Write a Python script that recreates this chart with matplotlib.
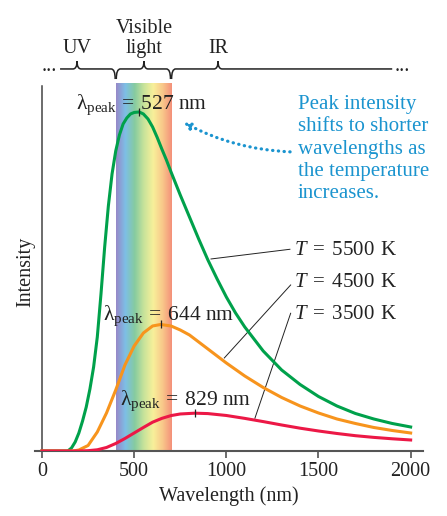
import matplotlib.pyplot as plt
import numpy as np
from matplotlib.colors import LinearSegmentedColormap
from matplotlib.path import Path
from matplotlib.patches import PathPatch, FancyArrowPatch
import matplotlib.transforms as mtransforms

plt.rcParams['font.family'] = 'Liberation Serif'
plt.rcParams['mathtext.fontset'] = 'custom'
plt.rcParams['mathtext.rm'] = 'Liberation Serif'
plt.rcParams['mathtext.it'] = 'Liberation Serif:italic'

# ---- data (intensity in arbitrary units) ----
wl_5500 = [0, 140, 160, 180, 200, 220, 240, 260, 280, 300, 320, 340, 360, 380, 400, 420, 440,
           460, 480, 500, 527, 550, 575, 600, 625, 650, 675, 700, 750, 800, 850, 900, 950,
           1000, 1050, 1100, 1200, 1300, 1400, 1500, 1600, 1700, 1800, 1900, 2000]
I_5500 = [0, 0, 3, 9, 18, 30, 44, 62, 84, 114, 157, 204, 245, 277, 300, 316, 327,
          333, 337, 338.5, 339, 337, 332, 324, 313.5, 302, 291, 279, 256, 234, 212, 191, 172,
          154, 138, 124, 100, 81, 66.5, 54.5, 45, 37.5, 32, 27.5, 24]

wl_4500 = [0, 170, 200, 250, 300, 350, 400, 450, 500, 550, 600, 644, 700, 750, 800, 900,
           1000, 1100, 1200, 1300, 1400, 1500, 1600, 1700, 1800, 1900, 2000]
I_4500 = [0, 0, 1, 5.5, 19, 38, 61, 86, 105, 118, 125, 126.5, 125, 121, 116, 102,
          88, 75, 63.5, 53.5, 45, 38, 32, 27.5, 23.5, 20.5, 18]

wl_3500 = [0, 200, 250, 300, 350, 400, 450, 500, 550, 600, 650, 700, 750, 829, 900,
           1000, 1100, 1200, 1300, 1400, 1500, 1600, 1700, 1800, 1900, 2000]
I_3500 = [0, 0, 0.3, 1.2, 3.5, 7.5, 12.5, 18, 23.5, 28.8, 32.6, 35.4, 37, 37.8, 37.4,
          35.5, 32.6, 29.4, 26, 22.8, 20, 17.5, 15.3, 13.6, 12.2, 11]

peak_nm = [527, 644, 829]
temps = ['5500', '4500', '3500']
curve_colors = ['#00a14b', '#f7941d', '#ec1846']
note_lines = ['Peak intensity', 'shifts to shorter', 'wavelengths as',
              'the temperature', 'increases.']

visible = (400, 700)
xticks = [0, 500, 1000, 1500, 2000]

fig = plt.figure(figsize=(4.47, 5.16), dpi=100)
ax = fig.add_axes([0.0783, 0.126, 0.868, 0.7074])
ax.set_xlim(-38, 2067)
ax.set_ylim(0, 365)

# rainbow band for visible light
rainbow = LinearSegmentedColormap.from_list(
    'vis', ['#9788c8', '#7dbfe6', '#86cba0', '#c8e39a', '#f8f09a', '#f9c88a', '#f4907a'])
ax.imshow(np.linspace(0, 1, 256)[None, :], cmap=rainbow, aspect='auto',
          extent=[visible[0], visible[1], 0, 367], zorder=0, clip_on=False)

series = [(wl_5500, I_5500), (wl_4500, I_4500), (wl_3500, I_3500)]
for (wl, I), c in zip(series, curve_colors):
    ax.plot(wl, I, color=c, lw=2.2, zorder=3, solid_joinstyle='round')

# peak markers and labels
lab_pos = [(184, 342), (333, 131), (423, 46)]
for p, (wl, I), (lx, ly) in zip(peak_nm, series, lab_pos):
    ax.plot([p], [np.interp(p, wl, I)], marker='|', ms=6, mew=0.9, color='#222222', zorder=4)
    ax.text(lx, ly, r'$\mathrm{\lambda}_{\mathrm{peak}}\,=\;\mathrm{%d\ nm}$' % p,
            fontsize=15.5, color='#222222', va='baseline', ha='left', zorder=5)

# temperature labels with leader lines
t_pos = [(1365, 196), (1365, 164), (1365, 132)]
leaders = [((1345, 201.7), (917, 192)),
           ((1349, 166), (989, 93)),
           ((1349, 137.7), (1155, 32.7))]
for t, (tx, ty), ((x0, y0), (x1, y1)) in zip(temps, t_pos, leaders):
    ax.text(tx, ty, r'$\mathit{T}\;=\;\mathrm{%s\;\,K}$' % t, fontsize=15, color='#222222',
            va='baseline', ha='left')
    ax.plot([x0, x1], [y0, y1], color='#222222', lw=0.7, zorder=2)

# blue annotation
blue = '#1b94cf'
for i, line in enumerate(note_lines):
    ax.text(1389, 341.7 - 22.2 * i, line, fontsize=15, color=blue, va='baseline', ha='left')
arr = FancyArrowPatch((1361, 299), (754, 330), connectionstyle='arc3,rad=-0.12',
                      arrowstyle='-|>', mutation_scale=10, color=blue, lw=2.3,
                      linestyle=(0, (0.1, 1.7)), capstyle='round', zorder=4)
ax.add_patch(arr)

# spines / ticks
for s in ['top', 'right']:
    ax.spines[s].set_visible(False)
ax.spines['left'].set_position(('data', 0))
ax.spines['left'].set_color('#444444')
ax.spines['bottom'].set_color('#555555')
ax.spines['left'].set_linewidth(1.1)
ax.spines['bottom'].set_linewidth(1.5)
ax.set_yticks([])
ax.set_xticks(xticks)
ax.tick_params(axis='x', direction='out', length=5, width=1.1, color='#444444',
               labelsize=14.5, labelcolor='#222222', pad=3)
ax.set_xlabel('Wavelength (nm)', fontsize=14.5, color='#222222', labelpad=4)
ax.text(-0.024, 0.49, 'Intensity', rotation=90, transform=ax.transAxes,
        ha='center', va='center', fontsize=14.5, color='#222222')

# region braces above the plot
trans = mtransforms.blended_transform_factory(ax.transData, ax.transAxes)
yb, yt, yh = 1.0466, 1.068, 1.019
r = 22


def brace(x0, xc, x1, hook_left, hook_right):
    verts, codes = [], []
    if hook_left:
        verts += [(x0, yh), (x0, yb), (x0 + r, yb)]
        codes += [Path.MOVETO, Path.CURVE3, Path.CURVE3]
    else:
        verts += [(x0, yb)]
        codes += [Path.MOVETO]
    verts += [(xc - r, yb), (xc, yb), (xc, yt), (xc, yb), (xc + r, yb)]
    codes += [Path.LINETO, Path.CURVE3, Path.CURVE3, Path.CURVE3, Path.CURVE3]
    if hook_right:
        verts += [(x1 - r, yb), (x1, yb), (x1, yh)]
        codes += [Path.LINETO, Path.CURVE3, Path.CURVE3]
    else:
        verts += [(x1, yb)]
        codes += [Path.LINETO]
    ax.add_patch(PathPatch(Path(verts, codes), transform=trans, fill=False,
                           lw=1.1, color='#222222', clip_on=False))


brace(98, 190, visible[0] - 3, False, True)
brace(visible[0] + 3, 553, visible[1] - 3, True, True)
brace(visible[1] + 3, 955, 1900, True, False)
ax.text(0, 1.041, '...', transform=trans, fontsize=14.5, ha='left', va='baseline', color='#222222')
ax.text(1915, 1.041, '...', transform=trans, fontsize=14.5, ha='left', va='baseline', color='#222222')
ax.text(190, 1.09, 'UV', transform=trans, fontsize=14.5, ha='center', va='baseline', color='#222222')
ax.text(553, 1.09, 'Visible\nlight', transform=trans, fontsize=14.5, ha='center', va='baseline',
        color='#222222', linespacing=1.05)
ax.text(955, 1.09, 'IR', transform=trans, fontsize=14.5, ha='center', va='baseline', color='#222222')

fig.savefig('out.png', dpi=100)
